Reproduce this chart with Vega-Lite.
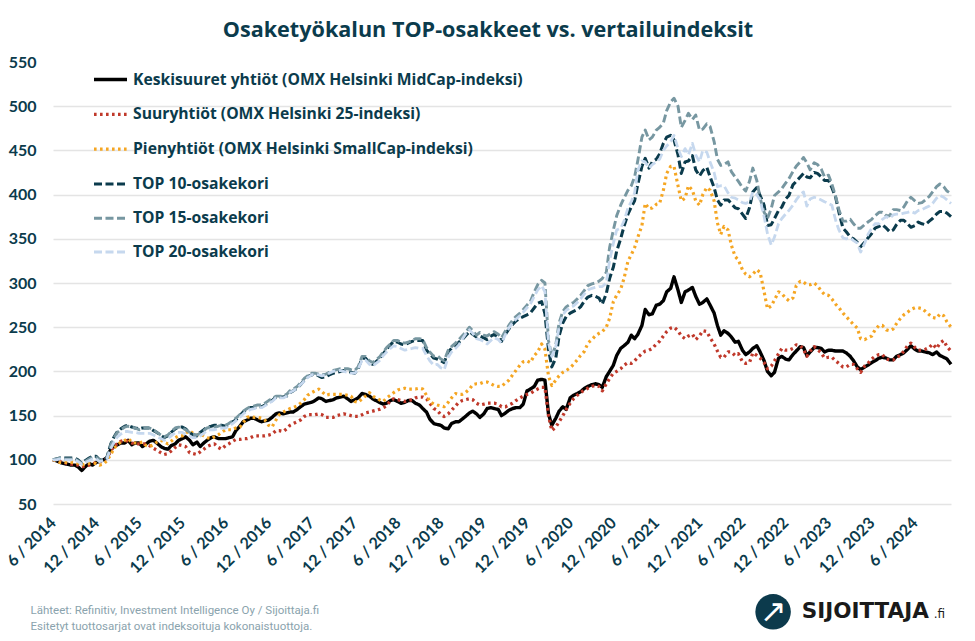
{
"$schema": "https://vega.github.io/schema/vega-lite/v6.json",
"width": 898,
"height": 442,
"autosize": {"type": "none"},
"padding": {"left": 53, "top": 62, "right": 24, "bottom": 137},
"background": "white",
"title": {"text": "Osaketyökalun TOP-osakkeet vs. vertailuindeksit", "anchor": "middle", "dx": -14, "offset": 12, "font": "Open Sans", "fontSize": 21.6, "fontWeight": "bold", "color": "#0b3b4c"},
"config": {"view": {"stroke": null}},
"data": {"values": [
{"date":"2014-06-01","a":100,"b":100,"c":100,"t10":100,"t15":100,"t20":100},
{"date":"2014-06-15","a":99,"b":99,"c":99,"t10":101,"t15":101,"t20":100},
{"date":"2014-07-01","a":97,"b":98,"c":97,"t10":102,"t15":102,"t20":101},
{"date":"2014-07-15","a":96,"b":97,"c":97,"t10":102,"t15":101,"t20":100},
{"date":"2014-08-01","a":95,"b":96,"c":97,"t10":102,"t15":101,"t20":100},
{"date":"2014-08-15","a":94,"b":95,"c":97,"t10":102,"t15":101,"t20":100},
{"date":"2014-09-01","a":94,"b":95,"c":97,"t10":102,"t15":101,"t20":100},
{"date":"2014-09-15","a":92,"b":94,"c":96,"t10":100,"t15":99,"t20":98},
{"date":"2014-10-01","a":88,"b":92,"c":94,"t10":96,"t15":96,"t20":95},
{"date":"2014-10-15","a":92,"b":93,"c":95,"t10":99,"t15":98,"t20":97},
{"date":"2014-11-01","a":96,"b":94,"c":96,"t10":102,"t15":101,"t20":99},
{"date":"2014-11-15","a":94,"b":95,"c":96,"t10":104,"t15":103,"t20":101},
{"date":"2014-12-01","a":97,"b":97,"c":96,"t10":104,"t15":103,"t20":101},
{"date":"2014-12-15","a":98,"b":98,"c":94,"t10":100,"t15":100,"t20":98},
{"date":"2015-01-01","a":100,"b":100,"c":95,"t10":101,"t15":100,"t20":99},
{"date":"2015-01-15","a":102,"b":102,"c":99,"t10":102,"t15":102,"t20":101},
{"date":"2015-02-01","a":112,"b":110,"c":106,"t10":118,"t15":117,"t20":113},
{"date":"2015-02-15","a":115,"b":116,"c":113,"t10":126,"t15":125,"t20":120},
{"date":"2015-03-01","a":117,"b":118,"c":117,"t10":132,"t15":131,"t20":126},
{"date":"2015-03-15","a":119,"b":121,"c":120,"t10":135,"t15":134,"t20":129},
{"date":"2015-04-01","a":119,"b":122,"c":122,"t10":138,"t15":137,"t20":132},
{"date":"2015-04-15","a":122,"b":121,"c":124,"t10":139,"t15":138,"t20":132},
{"date":"2015-05-01","a":117,"b":119,"c":120,"t10":137,"t15":137,"t20":131},
{"date":"2015-05-15","a":119,"b":118,"c":119,"t10":136,"t15":136,"t20":131},
{"date":"2015-06-01","a":119,"b":118,"c":119,"t10":135,"t15":134,"t20":130},
{"date":"2015-06-15","a":115,"b":118,"c":120,"t10":136,"t15":135,"t20":130},
{"date":"2015-07-01","a":118,"b":118,"c":116,"t10":136,"t15":136,"t20":130},
{"date":"2015-07-15","a":121,"b":116,"c":115,"t10":136,"t15":136,"t20":130},
{"date":"2015-08-01","a":122,"b":113,"c":117,"t10":133,"t15":134,"t20":128},
{"date":"2015-08-15","a":119,"b":111,"c":120,"t10":131,"t15":131,"t20":126},
{"date":"2015-09-01","a":115,"b":108,"c":122,"t10":128,"t15":128,"t20":124},
{"date":"2015-09-15","a":113,"b":106,"c":120,"t10":125,"t15":126,"t20":122},
{"date":"2015-10-01","a":112,"b":107,"c":118,"t10":127,"t15":128,"t20":124},
{"date":"2015-10-15","a":116,"b":110,"c":121,"t10":131,"t15":132,"t20":127},
{"date":"2015-11-01","a":118,"b":114,"c":125,"t10":135,"t15":136,"t20":131},
{"date":"2015-11-15","a":122,"b":117,"c":127,"t10":137,"t15":137,"t20":131},
{"date":"2015-12-01","a":124,"b":116,"c":127,"t10":137,"t15":136,"t20":131},
{"date":"2015-12-15","a":126,"b":115,"c":130,"t10":135,"t15":134,"t20":129},
{"date":"2016-01-01","a":122,"b":108,"c":133,"t10":131,"t15":131,"t20":127},
{"date":"2016-01-15","a":117,"b":107,"c":130,"t10":128,"t15":129,"t20":125},
{"date":"2016-02-01","a":120,"b":106,"c":128,"t10":127,"t15":128,"t20":125},
{"date":"2016-02-15","a":115,"b":109,"c":129,"t10":131,"t15":130,"t20":127},
{"date":"2016-03-01","a":119,"b":112,"c":127,"t10":134,"t15":133,"t20":130},
{"date":"2016-03-15","a":122,"b":115,"c":125,"t10":137,"t15":136,"t20":133},
{"date":"2016-04-01","a":125,"b":117,"c":124,"t10":138,"t15":137,"t20":134},
{"date":"2016-04-15","a":126,"b":118,"c":126,"t10":139,"t15":137,"t20":134},
{"date":"2016-05-01","a":124,"b":114,"c":128,"t10":139,"t15":138,"t20":135},
{"date":"2016-05-15","a":124,"b":112,"c":131,"t10":139,"t15":139,"t20":136},
{"date":"2016-06-01","a":124,"b":116,"c":134,"t10":138,"t15":139,"t20":136},
{"date":"2016-06-15","a":125,"b":118,"c":134,"t10":140,"t15":141,"t20":138},
{"date":"2016-07-01","a":126,"b":121,"c":134,"t10":143,"t15":144,"t20":141},
{"date":"2016-07-15","a":133,"b":123,"c":136,"t10":145,"t15":147,"t20":144},
{"date":"2016-08-01","a":138,"b":123,"c":137,"t10":150,"t15":151,"t20":148},
{"date":"2016-08-15","a":143,"b":124,"c":142,"t10":154,"t15":155,"t20":152},
{"date":"2016-09-01","a":145,"b":124,"c":148,"t10":157,"t15":158,"t20":155},
{"date":"2016-09-15","a":147,"b":125,"c":149,"t10":159,"t15":160,"t20":157},
{"date":"2016-10-01","a":147,"b":127,"c":148,"t10":159,"t15":161,"t20":158},
{"date":"2016-10-15","a":145,"b":127,"c":148,"t10":160,"t15":162,"t20":159},
{"date":"2016-11-01","a":143,"b":127,"c":147,"t10":160,"t15":162,"t20":159},
{"date":"2016-11-15","a":144,"b":127,"c":145,"t10":162,"t15":164,"t20":161},
{"date":"2016-12-01","a":145,"b":128,"c":139,"t10":165,"t15":167,"t20":164},
{"date":"2016-12-15","a":148,"b":129,"c":137,"t10":167,"t15":169,"t20":166},
{"date":"2017-01-01","a":152,"b":133,"c":145,"t10":171,"t15":172,"t20":170},
{"date":"2017-01-15","a":153,"b":133,"c":151,"t10":171,"t15":172,"t20":170},
{"date":"2017-02-01","a":152,"b":132,"c":154,"t10":171,"t15":172,"t20":170},
{"date":"2017-02-15","a":153,"b":135,"c":156,"t10":172,"t15":174,"t20":172},
{"date":"2017-03-01","a":154,"b":139,"c":158,"t10":176,"t15":178,"t20":176},
{"date":"2017-03-15","a":154,"b":141,"c":159,"t10":178,"t15":180,"t20":178},
{"date":"2017-04-01","a":157,"b":143,"c":161,"t10":181,"t15":183,"t20":181},
{"date":"2017-04-15","a":160,"b":145,"c":164,"t10":185,"t15":187,"t20":185},
{"date":"2017-05-01","a":163,"b":149,"c":168,"t10":190,"t15":192,"t20":189},
{"date":"2017-05-15","a":164,"b":151,"c":173,"t10":194,"t15":195,"t20":193},
{"date":"2017-06-01","a":165,"b":151,"c":176,"t10":196,"t15":198,"t20":196},
{"date":"2017-06-15","a":167,"b":151,"c":178,"t10":197,"t15":198,"t20":197},
{"date":"2017-07-01","a":170,"b":152,"c":180,"t10":195,"t15":197,"t20":196},
{"date":"2017-07-15","a":169,"b":151,"c":177,"t10":193,"t15":196,"t20":195},
{"date":"2017-08-01","a":166,"b":148,"c":173,"t10":194,"t15":197,"t20":196},
{"date":"2017-08-15","a":167,"b":148,"c":174,"t10":196,"t15":199,"t20":198},
{"date":"2017-09-01","a":168,"b":148,"c":174,"t10":198,"t15":201,"t20":200},
{"date":"2017-09-15","a":170,"b":150,"c":174,"t10":199,"t15":202,"t20":201},
{"date":"2017-10-01","a":171,"b":151,"c":174,"t10":200,"t15":203,"t20":201},
{"date":"2017-10-15","a":172,"b":152,"c":174,"t10":201,"t15":203,"t20":200},
{"date":"2017-11-01","a":169,"b":151,"c":173,"t10":200,"t15":203,"t20":199},
{"date":"2017-11-15","a":166,"b":150,"c":172,"t10":199,"t15":202,"t20":198},
{"date":"2017-12-01","a":168,"b":149,"c":166,"t10":198,"t15":201,"t20":198},
{"date":"2017-12-15","a":170,"b":149,"c":165,"t10":203,"t15":205,"t20":202},
{"date":"2018-01-01","a":175,"b":151,"c":169,"t10":215,"t15":217,"t20":213},
{"date":"2018-01-15","a":174,"b":153,"c":172,"t10":215,"t15":217,"t20":213},
{"date":"2018-02-01","a":172,"b":154,"c":176,"t10":210,"t15":212,"t20":208},
{"date":"2018-02-15","a":169,"b":155,"c":172,"t10":208,"t15":210,"t20":206},
{"date":"2018-03-01","a":167,"b":156,"c":170,"t10":211,"t15":213,"t20":209},
{"date":"2018-03-15","a":165,"b":157,"c":168,"t10":214,"t15":216,"t20":212},
{"date":"2018-04-01","a":163,"b":159,"c":166,"t10":220,"t15":222,"t20":218},
{"date":"2018-04-15","a":164,"b":161,"c":170,"t10":225,"t15":227,"t20":222},
{"date":"2018-05-01","a":167,"b":167,"c":173,"t10":230,"t15":231,"t20":226},
{"date":"2018-05-15","a":168,"b":169,"c":176,"t10":234,"t15":235,"t20":229},
{"date":"2018-06-01","a":166,"b":168,"c":179,"t10":233,"t15":235,"t20":228},
{"date":"2018-06-15","a":164,"b":167,"c":180,"t10":231,"t15":233,"t20":226},
{"date":"2018-07-01","a":165,"b":166,"c":181,"t10":230,"t15":232,"t20":224},
{"date":"2018-07-15","a":167,"b":167,"c":180,"t10":232,"t15":233,"t20":225},
{"date":"2018-08-01","a":167,"b":168,"c":180,"t10":234,"t15":235,"t20":226},
{"date":"2018-08-15","a":164,"b":170,"c":180,"t10":235,"t15":237,"t20":227},
{"date":"2018-09-01","a":162,"b":171,"c":181,"t10":235,"t15":237,"t20":226},
{"date":"2018-09-15","a":158,"b":171,"c":180,"t10":235,"t15":236,"t20":226},
{"date":"2018-10-01","a":154,"b":169,"c":173,"t10":224,"t15":227,"t20":218},
{"date":"2018-10-15","a":146,"b":164,"c":166,"t10":220,"t15":222,"t20":212},
{"date":"2018-11-01","a":141,"b":158,"c":163,"t10":215,"t15":217,"t20":207},
{"date":"2018-11-15","a":140,"b":156,"c":162,"t10":214,"t15":218,"t20":208},
{"date":"2018-12-01","a":139,"b":151,"c":161,"t10":212,"t15":214,"t20":204},
{"date":"2018-12-15","a":136,"b":149,"c":160,"t10":210,"t15":212,"t20":202},
{"date":"2019-01-01","a":135,"b":152,"c":165,"t10":222,"t15":224,"t20":216},
{"date":"2019-01-15","a":141,"b":156,"c":170,"t10":226,"t15":228,"t20":222},
{"date":"2019-02-01","a":143,"b":161,"c":175,"t10":229,"t15":232,"t20":226},
{"date":"2019-02-15","a":143,"b":165,"c":174,"t10":233,"t15":236,"t20":230},
{"date":"2019-03-01","a":146,"b":167,"c":174,"t10":236,"t15":240,"t20":236},
{"date":"2019-03-15","a":149,"b":168,"c":176,"t10":240,"t15":244,"t20":242},
{"date":"2019-04-01","a":153,"b":169,"c":180,"t10":245,"t15":250,"t20":247},
{"date":"2019-04-15","a":155,"b":168,"c":185,"t10":242,"t15":246,"t20":243},
{"date":"2019-05-01","a":152,"b":164,"c":186,"t10":239,"t15":241,"t20":237},
{"date":"2019-05-15","a":148,"b":162,"c":186,"t10":240,"t15":244,"t20":236},
{"date":"2019-06-01","a":152,"b":163,"c":188,"t10":238,"t15":241,"t20":234},
{"date":"2019-06-15","a":158,"b":164,"c":188,"t10":236,"t15":240,"t20":231},
{"date":"2019-07-01","a":159,"b":164,"c":186,"t10":240,"t15":243,"t20":235},
{"date":"2019-07-15","a":158,"b":164,"c":184,"t10":242,"t15":245,"t20":238},
{"date":"2019-08-01","a":157,"b":163,"c":183,"t10":238,"t15":242,"t20":236},
{"date":"2019-08-15","a":150,"b":160,"c":183,"t10":234,"t15":238,"t20":232},
{"date":"2019-09-01","a":153,"b":160,"c":187,"t10":242,"t15":246,"t20":242},
{"date":"2019-09-15","a":156,"b":162,"c":190,"t10":248,"t15":252,"t20":249},
{"date":"2019-10-01","a":158,"b":164,"c":196,"t10":253,"t15":258,"t20":255},
{"date":"2019-10-15","a":159,"b":167,"c":201,"t10":257,"t15":262,"t20":259},
{"date":"2019-11-01","a":159,"b":170,"c":207,"t10":260,"t15":266,"t20":263},
{"date":"2019-11-15","a":163,"b":172,"c":211,"t10":262,"t15":270,"t20":267},
{"date":"2019-12-01","a":178,"b":174,"c":212,"t10":264,"t15":275,"t20":272},
{"date":"2019-12-15","a":180,"b":175,"c":210,"t10":266,"t15":279,"t20":276},
{"date":"2020-01-01","a":183,"b":178,"c":218,"t10":272,"t15":290,"t20":285},
{"date":"2020-01-15","a":190,"b":180,"c":222,"t10":277,"t15":298,"t20":292},
{"date":"2020-02-01","a":191,"b":182,"c":231,"t10":279,"t15":303,"t20":297},
{"date":"2020-02-15","a":190,"b":182,"c":225,"t10":265,"t15":300,"t20":290},
{"date":"2020-03-01","a":152,"b":150,"c":195,"t10":225,"t15":235,"t20":232},
{"date":"2020-03-15","a":139,"b":133,"c":184,"t10":205,"t15":217,"t20":217},
{"date":"2020-04-01","a":147,"b":137,"c":190,"t10":215,"t15":230,"t20":228},
{"date":"2020-04-15","a":155,"b":143,"c":195,"t10":240,"t15":255,"t20":250},
{"date":"2020-05-01","a":160,"b":150,"c":199,"t10":255,"t15":268,"t20":264},
{"date":"2020-05-15","a":157,"b":157,"c":201,"t10":262,"t15":273,"t20":269},
{"date":"2020-06-01","a":170,"b":164,"c":204,"t10":266,"t15":276,"t20":272},
{"date":"2020-06-15","a":173,"b":169,"c":208,"t10":268,"t15":278,"t20":274},
{"date":"2020-07-01","a":175,"b":173,"c":213,"t10":270,"t15":282,"t20":278},
{"date":"2020-07-15","a":177,"b":176,"c":218,"t10":273,"t15":286,"t20":282},
{"date":"2020-08-01","a":181,"b":179,"c":223,"t10":280,"t15":292,"t20":288},
{"date":"2020-08-15","a":183,"b":181,"c":232,"t10":284,"t15":297,"t20":292},
{"date":"2020-09-01","a":185,"b":183,"c":236,"t10":286,"t15":299,"t20":294},
{"date":"2020-09-15","a":186,"b":184,"c":240,"t10":285,"t15":300,"t20":295},
{"date":"2020-10-01","a":185,"b":183,"c":243,"t10":283,"t15":302,"t20":296},
{"date":"2020-10-15","a":182,"b":178,"c":245,"t10":276,"t15":305,"t20":296},
{"date":"2020-11-01","a":194,"b":186,"c":250,"t10":288,"t15":312,"t20":300},
{"date":"2020-11-15","a":200,"b":192,"c":260,"t10":305,"t15":340,"t20":325},
{"date":"2020-12-01","a":207,"b":198,"c":279,"t10":318,"t15":360,"t20":345},
{"date":"2020-12-15","a":218,"b":200,"c":286,"t10":336,"t15":376,"t20":360},
{"date":"2021-01-01","a":226,"b":203,"c":293,"t10":350,"t15":388,"t20":362},
{"date":"2021-01-15","a":229,"b":207,"c":305,"t10":364,"t15":396,"t20":370},
{"date":"2021-02-01","a":233,"b":210,"c":325,"t10":378,"t15":405,"t20":385},
{"date":"2021-02-15","a":241,"b":209,"c":332,"t10":386,"t15":410,"t20":392},
{"date":"2021-03-01","a":237,"b":212,"c":340,"t10":393,"t15":420,"t20":402},
{"date":"2021-03-15","a":242,"b":216,"c":352,"t10":412,"t15":439,"t20":428},
{"date":"2021-04-01","a":252,"b":220,"c":365,"t10":432,"t15":465,"t20":438},
{"date":"2021-04-15","a":270,"b":223,"c":390,"t10":441,"t15":473,"t20":437},
{"date":"2021-05-01","a":264,"b":224,"c":384,"t10":430,"t15":462,"t20":430},
{"date":"2021-05-15","a":265,"b":226,"c":385,"t10":437,"t15":465,"t20":434},
{"date":"2021-06-01","a":275,"b":231,"c":389,"t10":440,"t15":473,"t20":437},
{"date":"2021-06-15","a":276,"b":234,"c":390,"t10":446,"t15":476,"t20":440},
{"date":"2021-07-01","a":280,"b":240,"c":405,"t10":458,"t15":481,"t20":450},
{"date":"2021-07-15","a":290,"b":245,"c":424,"t10":465,"t15":495,"t20":455},
{"date":"2021-08-01","a":294,"b":249,"c":432,"t10":467,"t15":505,"t20":460},
{"date":"2021-08-15","a":307,"b":250,"c":432,"t10":462,"t15":509,"t20":467},
{"date":"2021-09-01","a":292,"b":246,"c":410,"t10":445,"t15":500,"t20":452},
{"date":"2021-09-15","a":278,"b":240,"c":393,"t10":424,"t15":476,"t20":443},
{"date":"2021-10-01","a":290,"b":237,"c":396,"t10":437,"t15":484,"t20":452},
{"date":"2021-10-15","a":292,"b":240,"c":410,"t10":438,"t15":492,"t20":445},
{"date":"2021-11-01","a":295,"b":242,"c":405,"t10":444,"t15":485,"t20":458},
{"date":"2021-11-15","a":285,"b":236,"c":393,"t10":428,"t15":490,"t20":445},
{"date":"2021-12-01","a":276,"b":240,"c":388,"t10":421,"t15":473,"t20":437},
{"date":"2021-12-15","a":278,"b":246,"c":400,"t10":427,"t15":474,"t20":450},
{"date":"2022-01-01","a":282,"b":245,"c":408,"t10":431,"t15":480,"t20":448},
{"date":"2022-01-15","a":275,"b":238,"c":405,"t10":420,"t15":477,"t20":437},
{"date":"2022-02-01","a":266,"b":231,"c":393,"t10":408,"t15":460,"t20":425},
{"date":"2022-02-15","a":252,"b":223,"c":368,"t10":394,"t15":440,"t20":409},
{"date":"2022-03-01","a":241,"b":216,"c":355,"t10":388,"t15":433,"t20":410},
{"date":"2022-03-15","a":246,"b":216,"c":364,"t10":394,"t15":434,"t20":410},
{"date":"2022-04-01","a":243,"b":222,"c":360,"t10":394,"t15":437,"t20":402},
{"date":"2022-04-15","a":239,"b":222,"c":343,"t10":390,"t15":426,"t20":397},
{"date":"2022-05-01","a":233,"b":218,"c":330,"t10":385,"t15":420,"t20":396},
{"date":"2022-05-15","a":234,"b":220,"c":326,"t10":384,"t15":415,"t20":394},
{"date":"2022-06-01","a":224,"b":211,"c":315,"t10":378,"t15":408,"t20":391},
{"date":"2022-06-15","a":219,"b":209,"c":310,"t10":373,"t15":404,"t20":390},
{"date":"2022-07-01","a":222,"b":210,"c":307,"t10":385,"t15":415,"t20":392},
{"date":"2022-07-15","a":226,"b":221,"c":310,"t10":403,"t15":430,"t20":403},
{"date":"2022-08-01","a":229,"b":218,"c":315,"t10":408,"t15":416,"t20":400},
{"date":"2022-08-15","a":222,"b":215,"c":312,"t10":399,"t15":396,"t20":394},
{"date":"2022-09-01","a":212,"b":210,"c":290,"t10":388,"t15":380,"t20":375},
{"date":"2022-09-15","a":200,"b":203,"c":271,"t10":365,"t15":373,"t20":356},
{"date":"2022-10-01","a":195,"b":206,"c":274,"t10":366,"t15":384,"t20":343},
{"date":"2022-10-15","a":199,"b":212,"c":281,"t10":373,"t15":399,"t20":352},
{"date":"2022-11-01","a":215,"b":220,"c":290,"t10":382,"t15":403,"t20":367},
{"date":"2022-11-15","a":217,"b":226,"c":288,"t10":386,"t15":407,"t20":373},
{"date":"2022-12-01","a":214,"b":224,"c":283,"t10":395,"t15":413,"t20":378},
{"date":"2022-12-15","a":213,"b":224,"c":280,"t10":399,"t15":418,"t20":382},
{"date":"2023-01-01","a":219,"b":226,"c":283,"t10":411,"t15":426,"t20":388},
{"date":"2023-01-15","a":223,"b":230,"c":297,"t10":415,"t15":432,"t20":394},
{"date":"2023-02-01","a":228,"b":229,"c":302,"t10":420,"t15":437,"t20":400},
{"date":"2023-02-15","a":227,"b":225,"c":301,"t10":424,"t15":442,"t20":403},
{"date":"2023-03-01","a":218,"b":217,"c":298,"t10":420,"t15":436,"t20":387},
{"date":"2023-03-15","a":222,"b":223,"c":298,"t10":419,"t15":428,"t20":395},
{"date":"2023-04-01","a":227,"b":228,"c":300,"t10":425,"t15":436,"t20":397},
{"date":"2023-04-15","a":227,"b":225,"c":297,"t10":424,"t15":434,"t20":396},
{"date":"2023-05-01","a":226,"b":221,"c":291,"t10":420,"t15":429,"t20":394},
{"date":"2023-05-15","a":222,"b":215,"c":287,"t10":416,"t15":420,"t20":392},
{"date":"2023-06-01","a":224,"b":216,"c":286,"t10":416,"t15":422,"t20":390},
{"date":"2023-06-15","a":224,"b":216,"c":282,"t10":408,"t15":412,"t20":388},
{"date":"2023-07-01","a":223,"b":212,"c":276,"t10":397,"t15":398,"t20":371},
{"date":"2023-07-15","a":223,"b":209,"c":272,"t10":380,"t15":383,"t20":360},
{"date":"2023-08-01","a":223,"b":205,"c":266,"t10":362,"t15":370,"t20":351},
{"date":"2023-08-15","a":221,"b":205,"c":262,"t10":358,"t15":370,"t20":350},
{"date":"2023-09-01","a":217,"b":208,"c":257,"t10":352,"t15":372,"t20":351},
{"date":"2023-09-15","a":212,"b":208,"c":253,"t10":350,"t15":367,"t20":348},
{"date":"2023-10-01","a":205,"b":203,"c":249,"t10":346,"t15":362,"t20":345},
{"date":"2023-10-15","a":202,"b":199,"c":237,"t10":341,"t15":362,"t20":335},
{"date":"2023-11-01","a":205,"b":206,"c":236,"t10":346,"t15":366,"t20":345},
{"date":"2023-11-15","a":207,"b":209,"c":238,"t10":351,"t15":369,"t20":355},
{"date":"2023-12-01","a":210,"b":214,"c":240,"t10":356,"t15":372,"t20":362},
{"date":"2023-12-15","a":212,"b":217,"c":247,"t10":362,"t15":376,"t20":367},
{"date":"2024-01-01","a":215,"b":219,"c":252,"t10":364,"t15":380,"t20":367},
{"date":"2024-01-15","a":216,"b":219,"c":252,"t10":366,"t15":380,"t20":372},
{"date":"2024-02-01","a":215,"b":214,"c":247,"t10":362,"t15":376,"t20":375},
{"date":"2024-02-15","a":213,"b":213,"c":246,"t10":358,"t15":376,"t20":373},
{"date":"2024-03-01","a":213,"b":213,"c":248,"t10":360,"t15":383,"t20":377},
{"date":"2024-03-15","a":217,"b":216,"c":254,"t10":366,"t15":383,"t20":378},
{"date":"2024-04-01","a":219,"b":218,"c":260,"t10":371,"t15":382,"t20":378},
{"date":"2024-04-15","a":221,"b":223,"c":264,"t10":371,"t15":386,"t20":379},
{"date":"2024-05-01","a":225,"b":229,"c":267,"t10":367,"t15":393,"t20":380},
{"date":"2024-05-15","a":229,"b":232,"c":270,"t10":363,"t15":397,"t20":381},
{"date":"2024-06-01","a":225,"b":227,"c":272,"t10":365,"t15":393,"t20":379},
{"date":"2024-06-15","a":223,"b":224,"c":272,"t10":369,"t15":390,"t20":382},
{"date":"2024-07-01","a":223,"b":224,"c":271,"t10":367,"t15":391,"t20":383},
{"date":"2024-07-15","a":222,"b":225,"c":268,"t10":366,"t15":394,"t20":385},
{"date":"2024-08-01","a":221,"b":227,"c":264,"t10":370,"t15":398,"t20":387},
{"date":"2024-08-15","a":219,"b":231,"c":261,"t10":373,"t15":403,"t20":390},
{"date":"2024-09-01","a":222,"b":226,"c":260,"t10":378,"t15":409,"t20":396},
{"date":"2024-09-15","a":218,"b":232,"c":265,"t10":381,"t15":412,"t20":399},
{"date":"2024-10-01","a":216,"b":235,"c":263,"t10":381,"t15":409,"t20":397},
{"date":"2024-10-15","a":214,"b":228,"c":256,"t10":379,"t15":404,"t20":394},
{"date":"2024-11-01","a":208,"b":223,"c":250,"t10":375,"t15":401,"t20":390}
]},
"layer": [
{
"transform": [{"fold": ["a","b","c","t10","t15","t20"], "as": ["s","v"]}],
"mark": {"type": "line", "strokeJoin": "round"},
"encoding": {
"x": {"field": "date", "type": "temporal",
 "scale": {"type": "utc", "domain": [{"year":2014,"month":6,"date":1,"utc":true},{"year":2024,"month":11,"date":1,"utc":true}]},
 "axis": {
  "values": [{"year":2014,"month":6,"date":1,"utc":true},{"year":2014,"month":12,"date":1,"utc":true},{"year":2015,"month":6,"date":1,"utc":true},{"year":2015,"month":12,"date":1,"utc":true},{"year":2016,"month":6,"date":1,"utc":true},{"year":2016,"month":12,"date":1,"utc":true},{"year":2017,"month":6,"date":1,"utc":true},{"year":2017,"month":12,"date":1,"utc":true},{"year":2018,"month":6,"date":1,"utc":true},{"year":2018,"month":12,"date":1,"utc":true},{"year":2019,"month":6,"date":1,"utc":true},{"year":2019,"month":12,"date":1,"utc":true},{"year":2020,"month":6,"date":1,"utc":true},{"year":2020,"month":12,"date":1,"utc":true},{"year":2021,"month":6,"date":1,"utc":true},{"year":2021,"month":12,"date":1,"utc":true},{"year":2022,"month":6,"date":1,"utc":true},{"year":2022,"month":12,"date":1,"utc":true},{"year":2023,"month":6,"date":1,"utc":true},{"year":2023,"month":12,"date":1,"utc":true},{"year":2024,"month":6,"date":1,"utc":true}],
  "labelExpr": "utcFormat(datum.value, '%-m / %Y')",
  "labelAngle": -45, "labelAlign": "right", "labelBaseline": "middle", "labelFont": "Lato", "labelFontSize": 16, "labelFontWeight": "bold", "labelColor": "#0b3b4c",
  "labelPadding": 16, "labelOverlap": false, "labelBound": false, "labelFlush": false,
  "grid": false, "ticks": false, "domain": false,
  "title": ["Lähteet: Refinitiv, Investment Intelligence Oy / Sijoittaja.fi", "Esitetyt tuottosarjat ovat indeksoituja kokonaistuottoja."],
  "titleAnchor": "start", "titleAlign": "left", "titleX": -23, "titleY": 100, "titleBaseline": "top",
  "titleFont": "Roboto", "titleFontSize": 11.5, "titleFontWeight": "normal", "titleColor": "#8aa3ad", "titleLineHeight": 16
 }},
"y": {"field": "v", "type": "quantitative",
 "scale": {"domain": [50, 550], "nice": false, "zero": false},
 "axis": {"values": [50,100,150,200,250,300,350,400,450,500,550], "title": null,
  "labelFont": "Lato", "labelFontSize": 16, "labelFontWeight": "bold", "labelColor": "#0b3b4c", "labelPadding": 17,
  "ticks": false, "domain": false, "gridColor": "#e4e4e4", "gridWidth": 1.3,
  "gridOpacity": {"condition": {"test": "datum.value >= 550", "value": 0}, "value": 1}}},
"color": {"field": "s", "type": "ordinal",
 "scale": {"domain": ["a","b","c","t10","t15","t20"], "range": ["#000000","#c0392b","#f5a623","#0b3b4c","#7797a1","#c6d8ee"]},
 "legend": {"orient": "none", "legendX": 39, "legendY": -1, "title": null, "direction": "vertical",
  "labelFont": "Open Sans", "labelFontSize": 15.7, "labelFontWeight": "bold", "labelColor": "#0b3b4c", "labelLimit": 0,
  "symbolType": "stroke", "symbolSize": 1089, "rowPadding": 7.8, "labelOffset": 4,
  "labelExpr": "datum.label == 'a' ? 'Keskisuuret yhtiöt (OMX Helsinki MidCap-indeksi)' : datum.label == 'b' ? 'Suuryhtiöt (OMX Helsinki 25-indeksi)' : datum.label == 'c' ? 'Pienyhtiöt (OMX Helsinki SmallCap-indeksi)' : datum.label == 't10' ? 'TOP 10-osakekori' : datum.label == 't15' ? 'TOP 15-osakekori' : 'TOP 20-osakekori'"}},
"strokeDash": {"field": "s", "type": "ordinal",
 "scale": {"domain": ["a","b","c","t10","t15","t20"], "range": [[1,0],[2.6,3.4],[2.6,3.4],[8,3.5],[8,3.5],[8,3.5]]}},
"strokeWidth": {"field": "s", "type": "ordinal",
 "scale": {"domain": ["a","b","c","t10","t15","t20"], "range": [3.4,2.8,2.8,3.4,3.4,3.4]}}
}
},
{
"data": {"values": [{"k": "logo"}]},
"mark": {"type": "point", "shape": "circle", "filled": true, "size": 1260, "color": "#0c3a4c", "opacity": 1},
"encoding": {
"x": {"datum": {"year":2022,"month":10,"date":9,"utc":true}, "type": "temporal"},
"y": {"datum": -72, "type": "quantitative"}
}
},
{
"data": {"values": [{"k": "logo"}]},
"mark": {"type": "text", "text": "↗", "font": "DejaVu Sans", "fontSize": 32, "color": "white", "align": "center", "baseline": "middle"},
"encoding": {
"x": {"datum": {"year":2022,"month":10,"date":9,"utc":true}, "type": "temporal"},
"y": {"datum": -72, "type": "quantitative"}
}
},
{
"data": {"values": [{"k": "logo"}]},
"mark": {"type": "text", "text": "SIJOITTAJA", "font": "DejaVu Sans", "fontSize": 21.5, "fontWeight": "bold", "color": "#1a1a1a", "align": "left", "baseline": "alphabetic"},
"encoding": {
"x": {"datum": {"year":2023,"month":2,"date":7,"utc":true}, "type": "temporal"},
"y": {"datum": -79, "type": "quantitative"}
}
},
{
"data": {"values": [{"k": "logo"}]},
"mark": {"type": "text", "text": ".fi", "font": "DejaVu Sans", "fontSize": 12, "color": "#1a1a1a", "align": "left", "baseline": "alphabetic"},
"encoding": {
"x": {"datum": {"year":2024,"month":8,"date":20,"utc":true}, "type": "temporal"},
"y": {"datum": -79, "type": "quantitative"}
}
}
]
}
